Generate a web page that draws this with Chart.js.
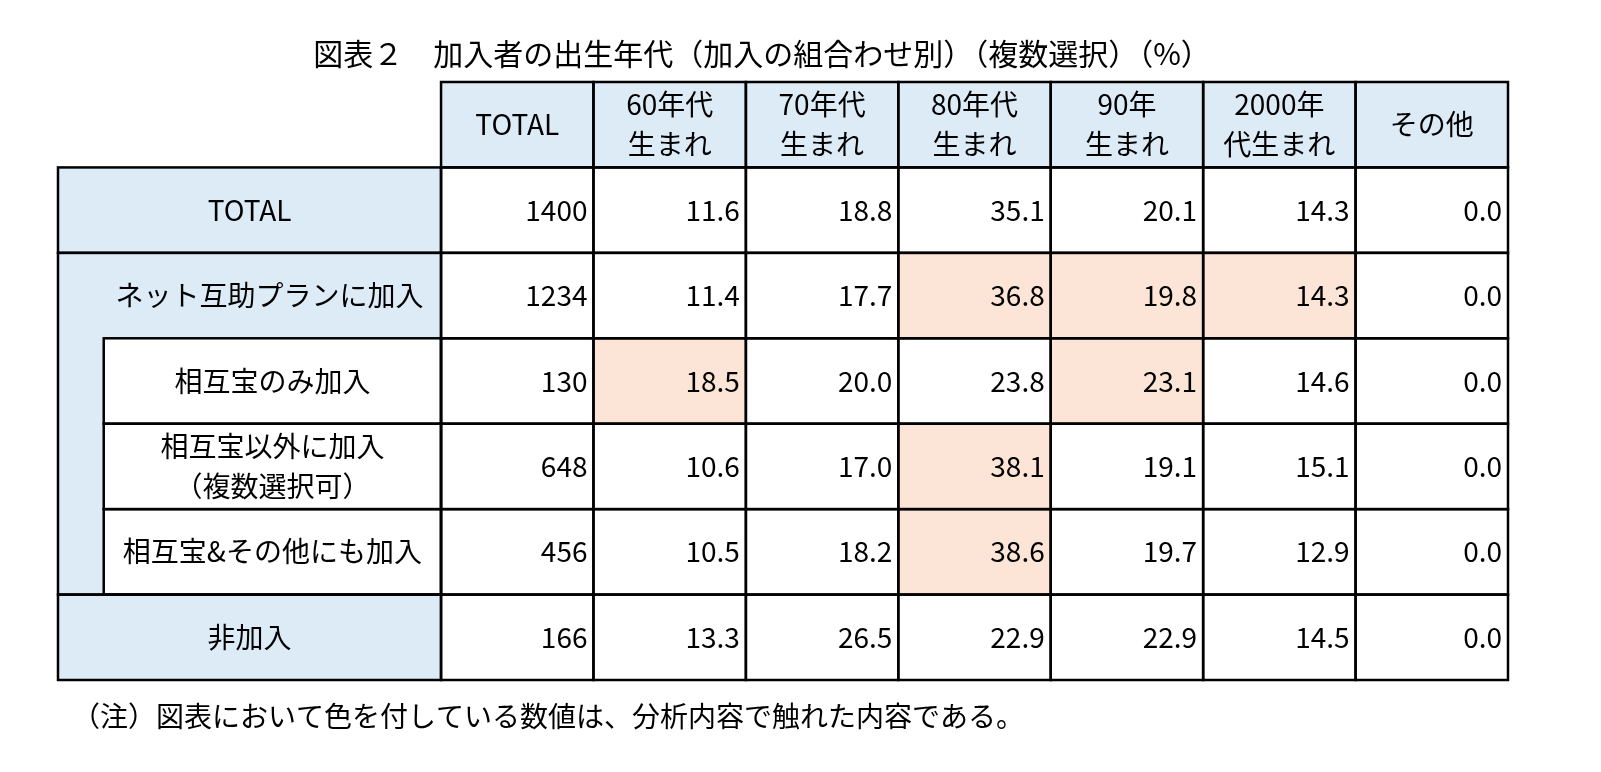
<!DOCTYPE html>
<html><head><meta charset="utf-8">
<script src="https://cdn.jsdelivr.net/npm/chart.js@4"></script>
<style>html,body{margin:0;padding:0;background:#fff;overflow:hidden}canvas{display:block}</style>
</head><body><canvas id="c" width="1601" height="772"></canvas>
<script>
const title = "図表２　加入者の出生年代（加入の組合わせ別）（複数選択）（%）";
const note = "（注）図表において色を付している数値は、分析内容で触れた内容である。";
const headers = [["TOTAL"],["60年代","生まれ"],["70年代","生まれ"],["80年代","生まれ"],["90年","生まれ"],["2000年","代生まれ"],["その他"]];
const rowLabels = [["TOTAL"],["ネット互助プランに加入"],["相互宝のみ加入"],["相互宝以外に加入","（複数選択可）"],["相互宝&その他にも加入"],["非加入"]];
const rowIndent = [0,0,1,1,1,0];
const nTotal = [1400,1234,130,648,456,166];
const s60 = [11.6,11.4,18.5,10.6,10.5,13.3];
const s70 = [18.8,17.7,20.0,17.0,18.2,26.5];
const s80 = [35.1,36.8,23.8,38.1,38.6,22.9];
const s90 = [20.1,19.8,23.1,19.1,19.7,22.9];
const s2000 = [14.3,14.3,14.6,15.1,12.9,14.5];
const sOther = [0.0,0.0,0.0,0.0,0.0,0.0];
const highlight = [[],[3,4,5],[1,4],[3],[3],[]];
const cols = [nTotal,s60,s70,s80,s90,s2000,sOther];
const labelW = 2.513, indentW = 0.3;
const BLUE="#DDEBF7", PEACH="#FCE4D6";
const FONT='"Noto Sans CJK JP","Noto Sans",sans-serif';

const tablePlugin = {id:'table', afterDraw(chart){
  const {ctx, scales:{x,y}} = chart;
  const X=v=>x.getPixelForValue(v), Y=v=>y.getPixelForValue(v);
  ctx.save();
  ctx.fillStyle="#000"; ctx.font="30px "+FONT; ctx.textAlign="center"; ctx.textBaseline="middle";
  ctx.fillText(title, 762, 54);
  ctx.font="28px "+FONT; ctx.textAlign="left"; ctx.fillText(note, 72, 716);
  ctx.fillStyle=BLUE; ctx.fillRect(X(labelW),Y(0),X(labelW+7)-X(labelW),Y(1)-Y(0));
  ctx.fillRect(X(0),Y(1),X(labelW)-X(0),Y(7)-Y(1));
  ctx.fillStyle="#fff";
  for(let r=0;r<6;r++) if(rowIndent[r]) ctx.fillRect(X(indentW),Y(r+1),X(labelW)-X(indentW),Y(r+2)-Y(r+1));
  for(let r=0;r<6;r++) for(const c of highlight[r]){
    ctx.fillStyle=PEACH; ctx.fillRect(X(labelW+c),Y(r+1),X(labelW+c+1)-X(labelW+c),Y(r+2)-Y(r+1));
  }
  ctx.strokeStyle="#000"; ctx.lineWidth=2.5;
  for(let c=0;c<7;c++) ctx.strokeRect(X(labelW+c),Y(0),X(labelW+c+1)-X(labelW+c),Y(1)-Y(0));
  for(let r=0;r<6;r++){
    for(let c=0;c<7;c++) ctx.strokeRect(X(labelW+c),Y(r+1),X(labelW+c+1)-X(labelW+c),Y(r+2)-Y(r+1));
    if(r==0||r==5) ctx.strokeRect(X(0),Y(r+1),X(labelW)-X(0),Y(r+2)-Y(r+1));
    else if(rowIndent[r]) ctx.strokeRect(X(indentW),Y(r+1),X(labelW)-X(indentW),Y(r+2)-Y(r+1));
  }
  ctx.strokeRect(X(0),Y(2),X(labelW)-X(0),Y(6)-Y(2));
  ctx.fillStyle="#000"; ctx.font="28px "+FONT;
  const lh=40;
  const multi=(lines,cx,cy,align)=>{ctx.textAlign=align; lines.forEach((t,i)=>ctx.fillText(t,cx,cy+(i-(lines.length-1)/2)*lh));};
  headers.forEach((h,c)=>multi(h,(X(labelW+c)+X(labelW+c+1))/2,(Y(0)+Y(1))/2,"center"));
  rowLabels.forEach((l,r)=>{const lx=rowIndent[r]?indentW:0; multi(l,(X(lx)+X(labelW))/2+(r==1?20:0),(Y(r+1)+Y(r+2))/2,"center");});
  ctx.textAlign="right";
  cols.forEach((arr,c)=>arr.forEach((v,r)=>{
    ctx.fillText(c==0?String(v):v.toFixed(1), X(labelW+c+1)-6, (Y(r+1)+Y(r+2))/2);
  }));
  ctx.restore();
}};

const pts=[]; cols.forEach((arr,c)=>arr.forEach((v,r)=>pts.push({x:labelW+c+0.5,y:r+1.5})));
new Chart(document.getElementById('c'),{
  type:'scatter',
  data:{datasets:[{data:pts,pointRadius:0}]},
  options:{responsive:false,animation:false,devicePixelRatio:1,
    layout:{padding:{left:58,right:93,top:82,bottom:92}},
    plugins:{legend:{display:false},tooltip:{enabled:false}},
    scales:{x:{type:'linear',min:0,max:labelW+7,display:false},
            y:{type:'linear',min:0,max:7,reverse:true,display:false}}},
  plugins:[tablePlugin]
});
</script></body></html>
